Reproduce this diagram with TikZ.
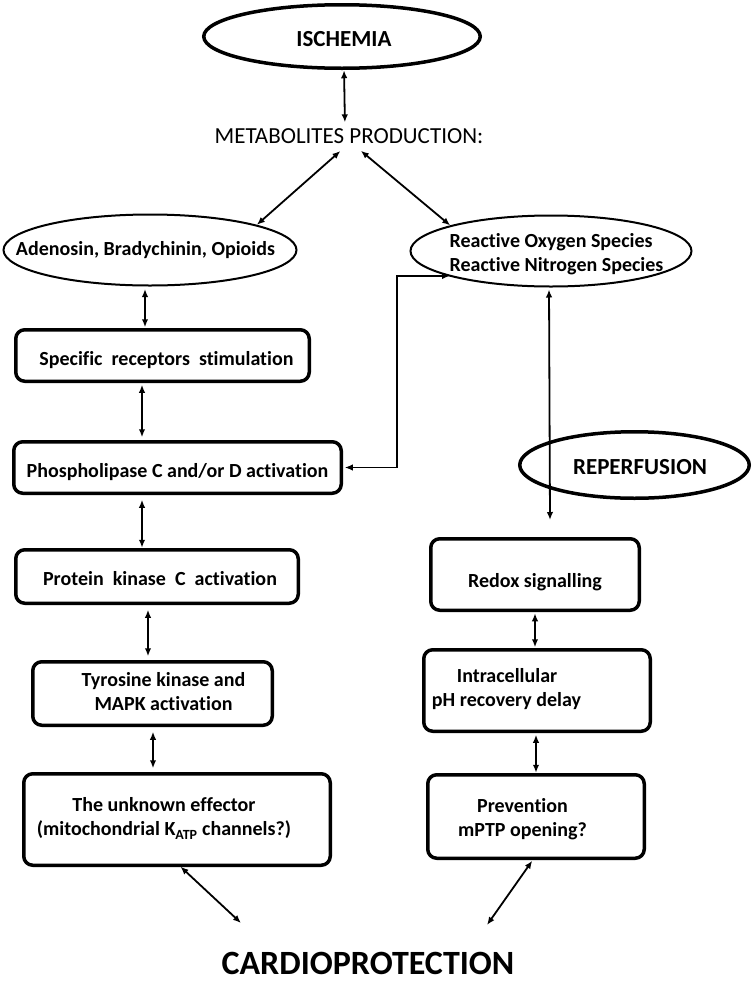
\documentclass[tikz,border=0pt]{standalone}
\usepackage{fontspec}
\setmainfont{Carlito}[RawFeature={-liga}]
\usetikzlibrary{shapes.geometric,arrows.meta}
\begin{document}
\begin{tikzpicture}[x=1pt,y=-1pt,
  boxs/.style={draw, line width=3.5pt, rounded corners=9pt, inner sep=0pt, outer sep=0pt},
  ellthick/.style={draw, ellipse, line width=3.5pt, inner sep=0pt, outer sep=0pt},
  ellthin/.style={draw, ellipse, line width=2pt, inner sep=0pt, outer sep=0pt},
  txt/.style={inner sep=0pt, font=\fontsize{20}{24}\selectfont\bfseries},
  arr/.style={line width=1.8pt, {Latex[length=8pt,width=6.5pt]}-{Latex[length=8pt,width=6.5pt]}}
]
\useasboundingbox (0,0) rectangle (752,983);

% ellipses
\node[ellthick, minimum width=276.5pt, minimum height=63.5pt] (isch) at (342,36.5) {};
\node[txt, font=\fontsize{23}{27}\selectfont\bfseries, anchor=base] (ischt) at (344,46) {ISCHEMIA};
\node[inner sep=0pt, font=\fontsize{23}{27}\selectfont, anchor=base] (metab) at (349,143) {METABOLITES PRODUCTION:};

\node[ellthin, minimum width=293pt, minimum height=71pt] (aden) at (150,250) {};
\node[txt, anchor=base] (adent) at (145.5,255) {Adenosin, Bradychinin, Opioids};

\node[ellthin, minimum width=281pt, minimum height=71pt] (ros) at (551,251) {};
\node[txt, align=left] (rost) at (556.5,253.7) {Reactive Oxygen Species\\Reactive Nitrogen Species};

\node[ellthick, minimum width=229.5pt, minimum height=66.5pt] (rep) at (634.5,465) {};
\node[txt, font=\fontsize{23}{27}\selectfont\bfseries, anchor=base] (rept) at (640,474) {REPERFUSION};

% left column boxes
\node[boxs, minimum width=293.5pt, minimum height=51.5pt] (spec) at (162.5,355.5) {};
\node[txt, anchor=base] (spect) at (166.5,365) {Specific~~receptors~~stimulation};

\node[boxs, minimum width=327.5pt, minimum height=51.5pt] (phos) at (177.5,467.5) {};
\node[txt, anchor=base] (phost) at (177.5,477) {Phospholipase C and/or D activation};

\node[boxs, minimum width=282.5pt, minimum height=53.5pt] (prot) at (157,576.5) {};
\node[txt, anchor=base] (prott) at (160,585) {Protein~~kinase~~C~~activation};

\node[boxs, minimum width=239.5pt, minimum height=63.5pt] (tyr) at (152.5,693.5) {};
\node[txt, align=center] (tyrt) at (163.5,692) {Tyrosine kinase and\\MAPK activation};

\node[boxs, minimum width=306.5pt, minimum height=91.5pt] (unk) at (177,819.5) {};
\node[txt, align=center] (unkt) at (164,818.5) {The unknown effector\\(mitochondrial K\textsubscript{ATP} channels?)};

% right column boxes
\node[boxs, minimum width=208.5pt, minimum height=71.5pt] (redox) at (535,574.5) {};
\node[txt, anchor=base] (redoxt) at (535,587) {Redox signalling};

\node[boxs, minimum width=226.5pt, minimum height=81.5pt] (intra) at (537,690.5) {};
\node[txt, align=left] (intrat) at (506.5,689) {\hspace*{25pt}Intracellular\\pH recovery delay};

\node[boxs, minimum width=216.5pt, minimum height=83.5pt] (prev) at (536,816.5) {};
\node[txt, align=center] (prevt) at (522.5,819) {Prevention\\mPTP opening?};

% bottom
\node[inner sep=0pt, font=\fontsize{34}{40}\selectfont\bfseries, anchor=base] (cardio) at (368,974) {CARDIOPROTECTION};
\coordinate (c1) at (241,923);
\coordinate (c2) at (487,925);
\coordinate (rosend) at (550,520);

% connectors
\draw[arr, shorten <=2pt, shorten >=5.5pt] ([xshift=2pt]isch.south) -- ([xshift=-4pt]metab.north);
\draw[arr, shorten <=11.5pt, shorten >=1pt] (metab.south) -- (aden.13);
\draw[arr, shorten <=11.5pt, shorten >=1pt] ([xshift=3pt]metab.south) -- (ros.166);
\draw[arr, shorten <=3.5pt, shorten >=1pt] (phos.east) -- ++(56,0) |- (ros.194);
\draw[arr, shorten <=3pt] ([xshift=-2pt]ros.south) -- (rosend);

\draw[arr, shorten <=3.5pt, shorten >=2.5pt] ([xshift=-5pt]aden.south) -- ([xshift=-17.5pt]spec.north);
\draw[arr, shorten <=3.5pt, shorten >=4.5pt] ([xshift=-20.5pt]spec.south) -- ([xshift=-35.5pt]phos.north);
\draw[arr, shorten <=6.5pt, shorten >=2pt] ([xshift=-35.5pt]phos.south) -- ([xshift=-15pt]prot.north);
\draw[arr, shorten <=6.5pt, shorten >=5.5pt] ([xshift=-9pt]prot.south) -- ([xshift=-4.5pt]tyr.north);
\draw[arr, shorten <=6.5pt, shorten >=5.5pt] ([xshift=0.5pt]tyr.south) -- ([xshift=-24pt]unk.north);
\draw[arr, shorten <=2pt] ([xshift=2pt]unk.south) -- (c1);

\draw[arr, shorten <=3pt, shorten >=2.5pt] (redox.south) -- ([xshift=-2pt]intra.north);
\draw[arr, shorten <=3.5pt, shorten >=2pt] ([xshift=-1pt]intra.south) -- (prev.north);
\draw[arr, shorten <=3pt] ([xshift=-2pt]prev.south) -- (c2);
\end{tikzpicture}
\end{document}
